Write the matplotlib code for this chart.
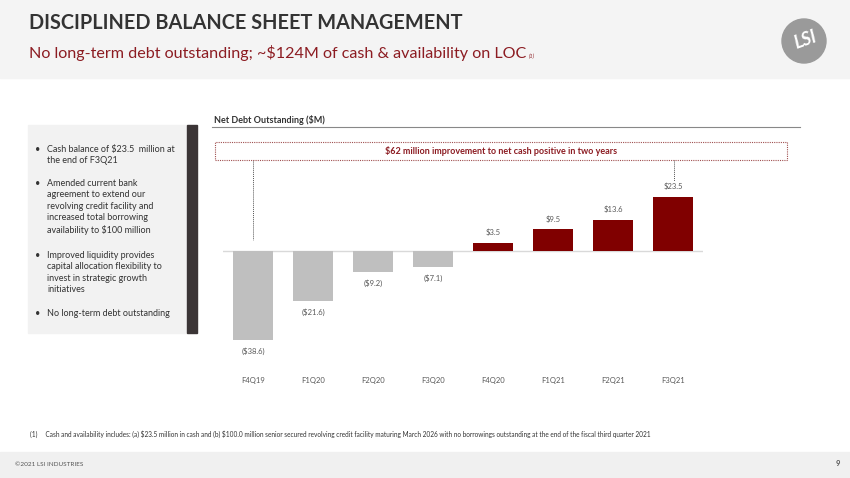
import matplotlib.pyplot as plt
from matplotlib.patches import Rectangle, Ellipse

plt.rcParams['font.family'] = ['Lato', 'DejaVu Sans']

quarters = ['F4Q19', 'F1Q20', 'F2Q20', 'F3Q20', 'F4Q20', 'F1Q21', 'F2Q21', 'F3Q21']
net_debt = [-38.6, -21.6, -9.2, -7.1, 3.5, 9.5, 13.6, 23.5]
labels = ['($38.6)', '($21.6)', '($9.2)', '($7.1)', '$3.5', '$9.5', '$13.6', '$23.5']

bullets = [
    'Cash balance of $23.5  million at\nthe end of F3Q21',
    'Amended current bank\nagreement to extend our\nrevolving credit facility and\nincreased total borrowing\navailability to $100 million',
    'Improved liquidity provides\ncapital allocation flexibility to\ninvest in strategic growth\ninitiatives',
    'No long-term debt outstanding',
]

W, H = 850, 478
fig = plt.figure(figsize=(8.5, 4.78), dpi=100)
fig.patch.set_facecolor('white')


def fx(px):
    return px / W


def fy(py):
    return 1 - py / H


# header / footer bands
fig.add_artist(Rectangle((0, fy(78)), 1, 78 / H, transform=fig.transFigure, color='#f4f4f4', zorder=0))
fig.add_artist(Rectangle((0, 0), 1, 26 / H, transform=fig.transFigure, color='#f0f0f0', zorder=0))

fig.text(fx(29), fy(23), 'DISCIPLINED BALANCE SHEET MANAGEMENT', fontsize=14.3, fontweight='bold',
         color='#333333', va='center', ha='left')
fig.text(fx(29), fy(53), 'No long-term debt outstanding; ~$124M of cash & availability on LOC',
         fontsize=11.6, color='#8c1c22', va='center', ha='left')
fig.text(fx(529), fy(56), '(1)', fontsize=4, color='#8c1c22', style='italic', va='center')

# logo
fig.add_artist(Ellipse((fx(804), fy(41)), 44 / W, 44 / H, transform=fig.transFigure,
                       color='#9a9a9a', zorder=2))
fig.text(fx(805), fy(40), 'LSI', fontsize=13, fontweight='bold', style='italic', color='white',
         ha='center', va='center', rotation=20, zorder=3)

# left text box
fig.add_artist(Rectangle((fx(28), fy(333)), 159 / W, 208 / H, transform=fig.transFigure,
                         color='#f2f2f2', zorder=1))
fig.add_artist(Rectangle((fx(187), fy(333)), 10 / W, 208 / H, transform=fig.transFigure,
                         color='#3b3536', zorder=1))
ys = [145, 179, 251, 309]
for y, b in zip(ys, bullets):
    fig.text(fx(35), fy(y), '\u2022', fontsize=6.5, color='#333333', va='top')
    fig.text(fx(47), fy(y), b, fontsize=6.5, color='#333333', va='top', linespacing=1.35)

# chart title
fig.text(fx(214), fy(120), 'Net Debt Outstanding ($M)', fontsize=6.5, fontweight='bold',
         color='#333333', va='center')
fig.add_artist(plt.Line2D([fx(212), fx(800)], [fy(127), fy(127)], transform=fig.transFigure,
                          color='#888888', lw=0.8))

# dashed callout box
fig.add_artist(Rectangle((fx(215), fy(160)), 572 / W, 18 / H, transform=fig.transFigure,
                         fill=False, ec='#a05050', lw=0.8, ls=(0, (1, 1)), zorder=3))
fig.text(fx(501), fy(151.5), '$62 million improvement to net cash positive in two years',
         fontsize=6.5, fontweight='bold', color='#8c1c22', ha='center', va='center')
fig.add_artist(plt.Line2D([fx(253), fx(253)], [fy(160), fy(240)], transform=fig.transFigure,
                          color='#555555', lw=0.7, ls=(0, (1, 1))))
fig.add_artist(plt.Line2D([fx(674), fx(674)], [fy(160), fy(181)], transform=fig.transFigure,
                          color='#555555', lw=0.7, ls=(0, (1, 1))))

# bar chart
ax = fig.add_axes([fx(223), fy(365), 480 / W, 225 / H])
ax.set_facecolor('none')
colors = ['#bfbfbf' if v < 0 else '#800000' for v in net_debt]
x = range(len(quarters))
ax.bar(x, net_debt, width=0.67, color=colors, zorder=2)
ax.axhline(0, color='#d9d9d9', lw=1, zorder=1)
for i, (v, lab) in enumerate(zip(net_debt, labels)):
    off = 4.5 if v > 0 else -4.8
    ax.text(i, v + off, lab, ha='center', va='center', fontsize=5.5, color='#595959')
ax.set_xlim(-0.5, 7.5)
ax.set_ylim(-49.57, 48.26)
ax.set_xticks(list(x))
ax.set_xticklabels(quarters, fontsize=5.5, color='#595959')
ax.tick_params(axis='x', length=0, pad=9)
ax.set_yticks([])
for s in ax.spines.values():
    s.set_visible(False)

# footnote and footer
fig.text(fx(30), fy(434), r'(1)     Cash and availability includes: (a) \$23.5 million in cash and (b) \$100.0 million senior secured '
         'revolving credit facility maturing March 2026 with no borrowings outstanding at the end of the fiscal third quarter 2021',
         fontsize=4.7, color='#333333', va='center')
fig.text(fx(15), fy(464), '\u00a92021 LSI INDUSTRIES', fontsize=4.6, color='#555555', va='center')
fig.text(fx(840), fy(464), '9', fontsize=5.5, fontweight='bold', color='#555555', va='center', ha='right')

fig.savefig('out.png', dpi=100)
